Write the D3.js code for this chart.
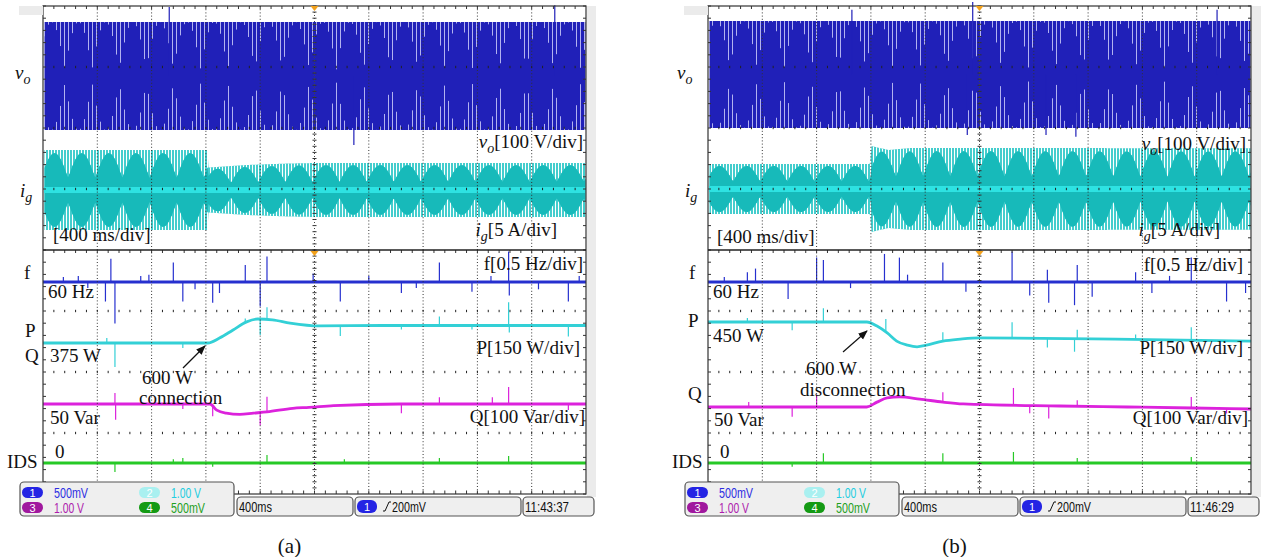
<!DOCTYPE html>
<html>
<head>
<meta charset="utf-8">
<script src="https://cdn.jsdelivr.net/npm/d3@7"></script>
<style>
  body { margin: 0; background: #fff; }
  svg text { font-family: "Liberation Serif", "Times New Roman", serif; }
  .scope { font-family: "Liberation Sans", Arial, sans-serif !important; }
</style>
</head>
<body>
<svg id="chart" width="1263" height="557"></svg>
<script>
// time axis: 10 div x 400 ms = 4 s on screen
const TIME_SPAN = 4;
const BEAT_HZ = 2.5; // display aliasing of the 60 Hz carrier

// ---- (a) 600 W connection ----
const voAmpA = [[0, 88.5], [4, 88.5]];                       // V peak
const voSpikesA = [[0.93, 113], [2.29, -113], [3.77, 116]];
const igAmpA = [[0, 3.28], [1.212, 3.28], [1.218, 1.84], [1.5, 2.05], [1.8, 2.17], [2.0, 2.21], [4, 2.21]]; // A peak
const fA = [[0, 60], [4, 60]];                               // Hz
const fSpikesA = [[0.15, 0.04], [0.26, 0.05], [0.33, -0.05], [0.46, -0.16], [0.50, 0.19], [0.53, -0.34], [0.72, 0.05],
  [0.78, 0.06], [0.96, 0.16], [1.03, -0.16], [1.12, -0.06], [1.25, -0.17], [1.30, -0.09], [1.49, 0.14], [1.60, -0.20],
  [1.65, 0.21], [1.99, 0.07], [2.19, -0.16], [2.40, 0.05], [2.64, -0.09], [2.75, -0.05], [2.92, 0.16], [3.16, -0.08],
  [3.30, 0.05], [3.43, 0.25], [3.435, -0.11], [3.65, -0.06], [3.87, -0.16], [3.95, 0.05]];
const pA = [[0, 375], [1.215, 375], [1.30, 387], [1.40, 407], [1.50, 427], [1.58, 434], [1.69, 432], [1.82, 424],
  [2.04, 417], [2.5, 418], [4, 418]];                        // W
const pSpikesA = [[0.47, 12], [0.53, -59], [1.03, -12], [1.49, 10], [1.60, -39], [1.65, 30], [2.19, -25], [2.64, -10],
  [2.92, 22], [3.16, -10], [3.43, 57], [3.435, -17], [3.87, -27]];
const qA = [[0, 50], [1.23, 50], [1.28, 40], [1.35, 35], [1.45, 33], [1.55, 35], [1.65, 37], [1.84, 43], [1.96, 44.5],
  [2.14, 47.5], [2.63, 50], [4, 50]];                        // Var
const qSpikesA = [[0.53, 18], [0.535, -26], [0.96, 8], [1.03, -8], [1.25, -16], [1.60, -21], [1.65, 25], [2.64, -15],
  [2.92, 11], [3.31, 11], [3.43, 28], [3.87, -10]];
const idsA = [[0, 0], [4, 0]];
const idsSpikesA = [[0.53, -0.074], [0.96, 0.03], [1.03, 0.04], [1.25, -0.03], [1.65, 0.066], [2.22, 0.03], [2.92, 0.04], [3.43, 0.057]];

// ---- (b) 600 W disconnection ----
const voAmpB = [[0, 87.7], [4, 87.7]];
const voSpikesB = [[1.06, 106], [1.91, -99], [1.95, 119], [2.49, -99], [2.71, -102], [3.75, 106]];
const igAmpB = [[0, 2.05], [1.196, 2.05], [1.202, 3.52], [1.33, 3.2], [1.50, 3.36], [1.95, 3.36], [4, 3.34]];
const fB = [[0, 60], [4, 60]];
const fSpikesB = [[0.12, 0.04], [0.29, 0.08], [0.35, 0.11], [0.59, -0.14], [0.80, 0.20], [0.85, 0.18], [1.05, -0.05],
  [1.30, 0.23], [1.41, 0.20], [1.47, 0.06], [1.73, 0.16], [1.90, -0.08], [2.24, 0.25], [2.37, -0.11], [2.50, 0.10],
  [2.51, -0.17], [2.70, -0.19], [2.72, 0.14], [2.83, -0.12], [3.15, 0.08], [3.27, -0.09], [3.40, 0.05], [3.56, 0.20],
  [3.82, -0.16], [3.96, -0.09]];
const pB = [[0, 450], [1.17, 450], [1.245, 440], [1.32, 423], [1.39, 403], [1.47, 393], [1.54, 389], [1.61, 393],
  [1.73, 403], [1.86, 408], [2.0, 411], [3.0, 408], [4, 403]];
const pSpikesB = [[0.29, 10], [0.62, -20], [0.85, 34], [1.31, 32], [1.73, 22], [2.24, 39], [2.50, -22], [2.70, -32],
  [2.72, 22], [3.15, 12], [3.56, 32]];
const qB = [[0, 50], [1.17, 50], [1.245, 58], [1.32, 65], [1.41, 66.5], [1.56, 63], [1.73, 58], [1.88, 55], [2.59, 51.6],
  [3.09, 50], [3.57, 48.4], [4, 46.7]];
const qSpikesB = [[0.30, 8], [0.62, -16], [0.80, 20], [1.73, 16], [2.25, 28], [2.37, -13], [2.51, -21], [2.72, 10],
  [3.56, 18], [3.82, -8]];
const idsB = [[0, 0], [4, 0]];
const idsSpikesB = [[0.62, -0.03], [0.85, 0.08], [1.73, 0.08], [2.25, 0.09], [2.72, 0.04], [3.56, 0.05]];

// scope channel settings and status bar text
const channels = [["1", "500mV"], ["2", "1.00 V"], ["3", "1.00 V"], ["4", "500mV"]];
const timebase = "400ms";
const trigLevel = "200mV";
const clockA = "11:43:37", clockB = "11:46:29";

// ---------------------------------------------------------------
const svg = d3.select("#chart");
const DIV_W = 54.3, DIV_H = 61, TOP = 6, BOT = 494, MID = 250;

const COL = {
  vo: "#2020b8", voGap: "#b2b2f0",
  ig: "#44cdcd", igCore: "#17baba", igMid: "#2ee2e2",
  f: "#2630cf", p: "#33d0d6", q: "#dc22dc", ids: "#26c926"
};

const interp = pts => d3.scaleLinear().domain(pts.map(d => d[0])).range(pts.map(d => d[1])).clamp(true);

function chan(zeroY, ref, perDiv) {
  return d3.scaleLinear().domain([ref, ref + perDiv]).range([zeroY, zeroY - DIV_H]);
}

function carrier(g, x, y, amp, spikes, o) {
  const ampAt = interp(amp);
  const [r0, r1] = x.range();
  const cols = d3.range(Math.round(r0) + 1, Math.round(r1)).map(px => {
    const t = x.invert(px + 0.5);
    const a = ampAt(t);
    const k = Math.abs(Math.sin(2 * Math.PI * BEAT_HZ * t + o.phase));
    return { px, a, c: a * (o.coreMin + (o.coreMax - o.coreMin) * k) };
  });
  const area = d3.area().x(d => d.px + 0.5).y0(d => y(-d.a)).y1(d => y(d.a));
  g.append("path").attr("d", area(cols)).attr("fill", o.fill);
  let gaps = "";
  cols.forEach(d => {
    if (d.px % o.every === 0) {
      gaps += `M${d.px + 0.5},${y(d.a)}V${y(d.c)}M${d.px + 0.5},${y(-d.c)}V${y(-d.a)}`;
    }
  });
  g.append("path").attr("d", gaps).attr("stroke", o.gap).attr("stroke-width", 1);
  if (o.core) {
    const core = d3.area().x(d => d.px + 0.5).y0(d => y(-d.c)).y1(d => y(d.c));
    g.append("path").attr("d", core(cols)).attr("fill", o.core);
    g.append("rect").attr("x", r0 + 1).attr("width", r1 - r0 - 2)
      .attr("y", y(0) - 3).attr("height", 6).attr("fill", o.mid);
  }
  g.selectAll(null).data(spikes).join("line")
    .attr("x1", d => x(d[0])).attr("x2", d => x(d[0]))
    .attr("y1", y(0)).attr("y2", d => y(d[1]))
    .attr("stroke", o.fill).attr("stroke-width", 1.2);
}

function trace(g, x, y, base, spikes, color) {
  const baseAt = interp(base);
  const line = d3.line().x(d => x(d[0])).y(d => y(d[1])).curve(d3.curveMonotoneX);
  g.selectAll(null).data(spikes).join("path")
    .attr("d", d => line([[d[0], baseAt(d[0])], [d[0], baseAt(d[0]) + d[1]]]))
    .attr("stroke", color).attr("stroke-width", 1.2).attr("fill", "none");
  g.append("path").attr("d", line(base)).attr("stroke", color)
    .attr("stroke-width", 2.8).attr("fill", "none");
}

function grid(g, x0) {
  const x1 = x0 + 10 * DIV_W, xc = x0 + 5 * DIV_W;
  let dots = "", ticks = "";
  for (let i = 1; i < 10; i++) {
    if (i === 5) continue;
    const xi = x0 + i * DIV_W;
    g.append("line").attr("x1", xi).attr("x2", xi).attr("y1", TOP).attr("y2", BOT)
      .attr("stroke", "#333").attr("stroke-dasharray", "1,2.2");
  }
  for (let j = 1; j < 8; j++) {
    if (j === 4) continue;
    const yj = TOP + j * DIV_H;
    for (let k = 1; k < 50; k++) dots += `M${x0 + k * DIV_W / 5},${yj - 1.2}v2.4`;
  }
  // centre vertical axis with minor ticks
  for (let y = TOP; y <= BOT; y += DIV_H / 10) ticks += `M${xc - 2},${y}h4`;
  // border ticks
  for (let y = TOP; y <= BOT; y += DIV_H / 5) ticks += `M${x0},${y}h3M${x1},${y}h-3`;
  for (let k = 1; k < 50; k++) {
    const xk = x0 + k * DIV_W / 5;
    ticks += `M${xk},${TOP}v3M${xk},${BOT}v-3.5M${xk},${MID}v3`;
  }
  g.append("path").attr("d", dots).attr("stroke", "#222").attr("stroke-width", 1);
  g.append("path").attr("d", ticks).attr("stroke", "#333").attr("stroke-width", 1);
  g.append("line").attr("x1", xc).attr("x2", xc).attr("y1", TOP).attr("y2", BOT)
    .attr("stroke", "#444").attr("stroke-dasharray", "1,2");
  g.append("rect").attr("x", x0).attr("y", TOP).attr("width", x1 - x0).attr("height", BOT - TOP)
    .attr("fill", "none").attr("stroke", "#333").attr("stroke-width", 1.2);
  g.append("line").attr("x1", x0).attr("x2", x1).attr("y1", MID).attr("y2", MID)
    .attr("stroke", "#222").attr("stroke-width", 1.5);
  [TOP, MID + 1].forEach(yy => {
    g.append("path").attr("d", `M${xc - 4},${yy}h8l-4,5z`).attr("fill", "#f2a11c");
  });
}

function statusBar(g, x0, clock) {
  const pill = ["#2424e4", "#a9f0f0", "#a0189e", "#149a14"];
  const txt = ["#2d2de2", "#22cde0", "#ad1cad", "#1f9f1f"];
  const box = (x, y, w, h) => g.append("rect").attr("x", x).attr("y", y).attr("width", w).attr("height", h)
    .attr("rx", 4).attr("fill", "#efefef").attr("stroke", "#555").attr("stroke-width", 1.2);
  g.append("rect").attr("x", x0 + 10 * DIV_W + 1).attr("y", TOP).attr("width", 9).attr("height", 491).attr("fill", "#ebebeb");
  g.append("rect").attr("x", x0 - 24).attr("y", TOP).attr("width", 24).attr("height", 9).attr("fill", "#ebebeb");
  box(x0 - 23, 482, 214, 34);
  channels.forEach((c, i) => {
    const px = x0 - 21 + (i % 2) * 117, py = i < 2 ? 487 : 502;
    g.append("rect").attr("x", px).attr("y", py).attr("width", 21).attr("height", 11).attr("rx", 5.5).attr("fill", pill[i]);
    g.append("text").attr("class", "scope").attr("x", px + 10.5).attr("y", py + 9.5).attr("text-anchor", "middle")
      .attr("font-size", 11).attr("fill", "#fff").text(c[0]);
    g.append("text").attr("class", "scope").attr("x", px + 32).attr("y", py + 10.5)
      .attr("font-size", 14).attr("fill", txt[i]).attr("textLength", c[1] === "500mV" ? 34 : 30)
      .attr("lengthAdjust", "spacingAndGlyphs").text(c[1]);
  });
  box(x0 + 194, 497, 116, 19);
  g.append("text").attr("class", "scope").attr("x", x0 + 196).attr("y", 512).attr("font-size", 14)
    .attr("textLength", 33).attr("lengthAdjust", "spacingAndGlyphs").attr("fill", "#111").text(timebase);
  box(x0 + 312, 497, 166, 19);
  g.append("rect").attr("x", x0 + 314).attr("y", 500).attr("width", 20).attr("height", 13).attr("rx", 6).attr("fill", pill[0]);
  g.append("text").attr("class", "scope").attr("x", x0 + 324).attr("y", 511).attr("text-anchor", "middle")
    .attr("font-size", 11).attr("fill", "#fff").text("1");
  g.append("path").attr("d", `M${x0 + 340},${511}h2l4,-9h2`).attr("stroke", "#111").attr("fill", "none");
  g.append("text").attr("class", "scope").attr("x", x0 + 349).attr("y", 512).attr("font-size", 14)
    .attr("textLength", 34).attr("lengthAdjust", "spacingAndGlyphs").attr("fill", "#111").text(trigLevel);
  box(x0 + 480, 497, 71, 19);
  g.append("text").attr("class", "scope").attr("x", x0 + 482).attr("y", 512).attr("font-size", 14)
    .attr("textLength", 44).attr("lengthAdjust", "spacingAndGlyphs").attr("fill", "#111").text(clock);
}

function label(g, x, y, parts, anchor) {
  const t = g.append("text").attr("x", x).attr("y", y).attr("font-size", 19).attr("fill", "#111")
    .attr("text-anchor", anchor || "start");
  parts.forEach(p => {
    const s = t.append("tspan").text(p.s);
    if (p.i) s.attr("font-style", "italic");
    if (p.sub) s.attr("font-size", 14).attr("dy", 5);
    if (p.up) s.attr("dy", -5);
  });
}

svg.append("defs").append("marker").attr("id", "head").attr("viewBox", "0 0 10 10")
  .attr("refX", 9).attr("refY", 5).attr("markerWidth", 8).attr("markerHeight", 8).attr("orient", "auto")
  .append("path").attr("d", "M0,1L10,5L0,9z").attr("fill", "#111");

const panels = [
  { x0: 43, vo: voAmpA, voS: voSpikesA, ig: igAmpA, f: fA, fS: fSpikesA, p: pA, pS: pSpikesA, q: qA, qS: qSpikesA,
    ids: idsA, idsS: idsSpikesA, zero: { vo: 76, ig: 190, p: 343, q: 404 }, pRef: 375, clock: clockA, cap: "(a)",
    ev: ["600 W", "connection"], evX: [142, 139], evY: [384, 404], arrow: [183, 368, 205, 346], pLab: "375 W", pLabY: 362,
    left: { vo: [15, 79], ig: [20, 197], div: [53, 241], f: [24, 279], hz: [48, 298], P: [25, 337], Q: [25, 362], var: [50, 424], z: [55, 458], ids: [7, 468] },
    right: { vo: [583, 148], ig: [557, 236], f: [583, 270], p: [580, 354], q: [585, 423] } },
  { x0: 708, vo: voAmpB, voS: voSpikesB, ig: igAmpB, f: fB, fS: fSpikesB, p: pB, pS: pSpikesB, q: qB, qS: qSpikesB,
    ids: idsB, idsS: idsSpikesB, zero: { vo: 74.5, ig: 189, p: 322, q: 407 }, pRef: 450, clock: clockB, cap: "(b)",
    ev: ["600 W", "disconnection"], evX: [806, 800], evY: [375, 396], arrow: [843, 352, 867, 331], pLab: "450 W", pLabY: 342,
    left: { vo: [677, 79], ig: [685, 197], div: [717, 243], f: [689, 279], hz: [713, 298], P: [688, 327], Q: [688, 400], var: [714, 426], z: [720, 458], ids: [672, 468] },
    right: { vo: [1246, 150], ig: [1220, 236], f: [1243, 271], p: [1243, 354], q: [1248, 424] } }
];

panels.forEach(P => {
  const g = svg.append("g");
  const x = d3.scaleLinear().domain([0, TIME_SPAN]).range([P.x0, P.x0 + 10 * DIV_W]);
  const yVo = chan(P.zero.vo, 0, 100), yIg = chan(P.zero.ig, 0, 5);
  const yF = chan(282, 60, 0.5), yP = chan(P.zero.p, P.pRef, 150), yQ = chan(P.zero.q, 50, 100), yI = chan(463, 0, 0.5);

  carrier(g, x, yVo, P.vo, P.voS, { fill: COL.vo, gap: COL.voGap, every: 4, coreMin: 0.12, coreMax: 1, phase: 0.6 });
  carrier(g, x, yIg, P.ig, [], { fill: COL.ig, gap: "#ffffff", every: 3, coreMin: 0.3, coreMax: 0.92, phase: -2.9,
    core: COL.igCore, mid: COL.igMid });

  trace(g, x, yF, P.f, P.fS, COL.f);
  trace(g, x, yP, P.p, P.pS, COL.p);
  trace(g, x, yQ, P.q, P.qS, COL.q);
  trace(g, x, yI, P.ids, P.idsS, COL.ids);

  grid(g, P.x0);
  statusBar(g, P.x0, P.clock);

  const L = P.left, R = P.right;
  label(g, L.vo[0], L.vo[1], [{ s: "v", i: 1 }, { s: "o", i: 1, sub: 1 }]);
  label(g, L.ig[0], L.ig[1], [{ s: "i", i: 1 }, { s: "g", i: 1, sub: 1 }]);
  label(g, L.div[0], L.div[1], [{ s: "[400 ms/div]" }]);
  label(g, L.f[0], L.f[1], [{ s: "f" }]);
  label(g, L.hz[0], L.hz[1], [{ s: "60 Hz" }]);
  label(g, L.P[0], L.P[1], [{ s: "P" }]);
  label(g, L.P[0] + 25, P.pLabY, [{ s: P.pLab }]);
  label(g, L.Q[0], L.Q[1], [{ s: "Q" }]);
  label(g, L.var[0], L.var[1], [{ s: "50 Var" }]);
  label(g, L.z[0], L.z[1], [{ s: "0" }]);
  label(g, L.ids[0], L.ids[1], [{ s: "IDS" }]);
  label(g, R.vo[0], R.vo[1], [{ s: "v", i: 1 }, { s: "o", i: 1, sub: 1 }, { s: "[100 V/div]", up: 1 }], "end");
  label(g, R.ig[0], R.ig[1], [{ s: "i", i: 1 }, { s: "g", i: 1, sub: 1 }, { s: "[5 A/div]", up: 1 }], "end");
  label(g, R.f[0], R.f[1], [{ s: "f[0.5 Hz/div]" }], "end");
  label(g, R.p[0], R.p[1], [{ s: "P[150 W/div]" }], "end");
  label(g, R.q[0], R.q[1], [{ s: "Q[100 Var/div]" }], "end");
  label(g, P.evX[0], P.evY[0], [{ s: P.ev[0] }]);
  label(g, P.evX[1], P.evY[1], [{ s: P.ev[1] }]);
  const a = P.arrow;
  g.append("line").attr("x1", a[0]).attr("y1", a[1]).attr("x2", a[2]).attr("y2", a[3])
    .attr("stroke", "#111").attr("stroke-width", 1.2).attr("marker-end", "url(#head)");

  g.append("text").attr("x", P.x0 + 5 * DIV_W - 25).attr("y", 553).attr("text-anchor", "middle")
    .attr("font-size", 21).attr("fill", "#111").text(P.cap);
});
</script>
</body>
</html>
